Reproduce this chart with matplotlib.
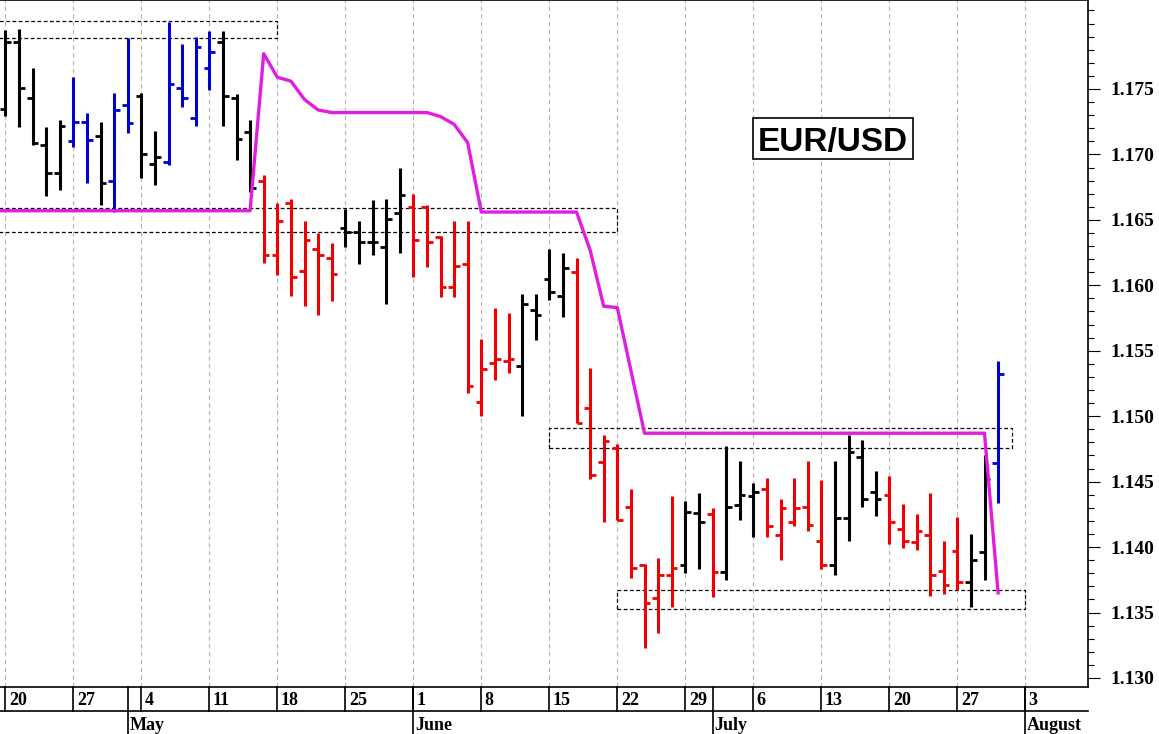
import numpy as np
import matplotlib.pyplot as plt
from matplotlib.patches import Rectangle
from matplotlib.ticker import FixedLocator, MultipleLocator, FormatStrFormatter
from matplotlib.transforms import offset_copy

# Daily EUR/USD bars, one per trading day starting Monday 20 April (index 0)
opens = [1.1735, 1.1786, 1.1743, 1.1707, 1.1686, 1.1710, 1.1725, 1.1714, 1.1680, 1.1738,
         1.1745, 1.1693, 1.1694, 1.1751, 1.1728, 1.1766, 1.1786, 1.1743, 1.1717, 1.1680,
         1.1623, 1.1663, 1.1611, 1.1628, 1.1621, 1.1644, 1.1641, 1.1633, 1.1629, 1.1655,
         1.1660, 1.1660, 1.1637, 1.1599, 1.1616, 1.1511, 1.1541, 1.1542, 1.1538, 1.1581,
         1.1605, 1.1592, 1.1610, 1.1506, 1.1465, 1.1476, 1.1431, 1.1386, 1.1361, 1.1379,
         1.1386, 1.1426, 1.1425, 1.1381, 1.1432, 1.1439, 1.1444, 1.1409, 1.1419, 1.1431,
         1.1405, 1.1386, 1.1422, 1.1469, 1.1442, 1.1440, 1.1414, 1.1404, 1.1409, 1.1382,
         1.1397, 1.1373, 1.1396, 1.1464]
highs = [1.1795, 1.1796, 1.1766, 1.1721, 1.1726, 1.1759, 1.1732, 1.1725, 1.1747, 1.1789,
         1.1747, 1.1718, 1.1801, 1.1784, 1.1790, 1.1794, 1.1794, 1.1746, 1.1726, 1.1684,
         1.1663, 1.1666, 1.1649, 1.1640, 1.1632, 1.1658, 1.1649, 1.1665, 1.1666, 1.1690,
         1.1670, 1.1661, 1.1638, 1.1649, 1.1649, 1.1559, 1.1583, 1.1579, 1.1593, 1.1593,
         1.1628, 1.1625, 1.1621, 1.1537, 1.1486, 1.1479, 1.1444, 1.1387, 1.1392, 1.1439,
         1.1435, 1.1441, 1.1430, 1.1477, 1.1466, 1.1449, 1.1453, 1.1437, 1.1453, 1.1466,
         1.1451, 1.1466, 1.1486, 1.1482, 1.1458, 1.1454, 1.1433, 1.1425, 1.1441, 1.1405,
         1.1423, 1.1410, 1.1470, 1.1542]
lows = [1.1729, 1.1721, 1.1707, 1.1668, 1.1673, 1.1706, 1.1678, 1.1661, 1.1656, 1.1716,
        1.1682, 1.1677, 1.1692, 1.1736, 1.1722, 1.1749, 1.1722, 1.1696, 1.1671, 1.1617,
        1.1608, 1.1592, 1.1584, 1.1577, 1.1588, 1.1629, 1.1616, 1.1623, 1.1586, 1.1625,
        1.1606, 1.1614, 1.1591, 1.1591, 1.1518, 1.1500, 1.1528, 1.1533, 1.1500, 1.1558,
        1.1589, 1.1576, 1.1495, 1.1452, 1.1419, 1.1421, 1.1376, 1.1323, 1.1334, 1.1354,
        1.1380, 1.1383, 1.1362, 1.1375, 1.1421, 1.1408, 1.1408, 1.1390, 1.1416, 1.1412,
        1.1383, 1.1379, 1.1405, 1.1431, 1.1424, 1.1402, 1.1399, 1.1398, 1.1363, 1.1364,
        1.1367, 1.1354, 1.1375, 1.1434]
closes = [1.1786, 1.1751, 1.1709, 1.1686, 1.1722, 1.1725, 1.1711, 1.1678, 1.1734, 1.1724,
          1.1700, 1.1698, 1.1754, 1.1743, 1.1782, 1.1778, 1.1745, 1.1712, 1.1674, 1.1623,
          1.1649, 1.1606, 1.1635, 1.1623, 1.1609, 1.1641, 1.1633, 1.1633, 1.1651, 1.1669,
          1.1635, 1.1633, 1.1599, 1.1615, 1.1523, 1.1536, 1.1544, 1.1544, 1.1586, 1.1577,
          1.1595, 1.1613, 1.1495, 1.1455, 1.1481, 1.1421, 1.1384, 1.1357, 1.1379, 1.1384,
          1.1427, 1.1419, 1.1381, 1.1431, 1.1440, 1.1442, 1.1416, 1.1430, 1.1430, 1.1417,
          1.1386, 1.1422, 1.1473, 1.1437, 1.1437, 1.1419, 1.1405, 1.1412, 1.1379, 1.1371,
          1.1373, 1.1390, 1.1452, 1.1532]

# Bar colour codes: k = neutral, b = up trend, r = down trend
bar_colors = (['k'] * 5 + ['b'] * 2 + ['k'] + ['b'] * 2 + ['k'] * 2 + ['b'] * 4
              + ['k'] * 3 + ['r'] * 6 + ['k'] * 5 + ['r'] * 8 + ['k'] * 4 + ['r'] * 8
              + ['k'] * 2 + ['r'] + ['k'] * 3 + ['r'] * 5 + ['k'] * 4 + ['r'] * 6
              + ['k'] * 2 + ['b'])

# Magenta stop line, starting one day before the first bar
stop_days = list(range(-1, 74))
stop_levels = ([1.1657] * 20 + [1.1777, 1.1759, 1.1756, 1.1742, 1.1734] + [1.1732] * 8
               + [1.1729, 1.1723, 1.1709] + [1.1656] * 8 + [1.1627, 1.1584, 1.1583, 1.1535]
               + [1.1487] * 26 + [1.1365])

# Dashed zones: (first day, last day, low, high)
zone_start = [-1, -1, 40, 45]
zone_end = [20, 45, 74, 75]
zone_low = [1.1789, 1.1641, 1.1476, 1.1353]
zone_high = [1.1802, 1.1659, 1.1491, 1.1367]

# Calendar labels
week_days = list(range(0, 76, 5))
week_labels = ['20', '27', '4', '11', '18', '25', '1', '8', '15', '22', '29',
               '6', '13', '20', '27', '3']
month_days = [9, 30, 52, 75]
month_labels = ['May', 'June', 'July', 'August']

price_ticks = [1.130, 1.135, 1.140, 1.145, 1.150, 1.155, 1.160, 1.165, 1.170, 1.175]

COLOR_MAP = {'k': '#000000', 'b': '#0000d0', 'r': '#f00000'}


def draw_bars(ax):
    """Draws the OHLC bars, the stop line and the dashed zones."""
    x = np.arange(len(closes))
    colors = [COLOR_MAP[c] for c in bar_colors]

    ax.vlines(x, lows, highs, colors=colors, lw=2.2, zorder=3)
    ax.hlines(opens, x - 0.42, x, colors=colors, lw=2.0, zorder=3)
    ax.hlines(closes, x, x + 0.42, colors=colors, lw=2.0, zorder=3)

    ax.plot(stop_days, stop_levels, color='#e01ee0', lw=2.4, zorder=4)

    for x0, x1, lo, hi in zip(zone_start, zone_end, zone_low, zone_high):
        ax.add_patch(Rectangle((x0, lo), x1 - x0, hi - lo, fill=False,
                               ec='black', lw=0.9, ls=(0, (3, 2)), zorder=2))


def draw_calendar(fig, ax):
    """Draws the week and month rows under the plot area."""
    trans = ax.get_xaxis_transform()
    row_y = -24 / 687
    bottom_y = -47 / 687

    ax.plot([0, 1], [row_y, row_y], transform=ax.transAxes, color='black',
            lw=1.2, clip_on=False)
    for d in week_days:
        ax.plot([d, d], [0, row_y], transform=trans, color='black', lw=1.2,
                clip_on=False)
    for d in month_days:
        ax.plot([d, d], [0, bottom_y], transform=trans, color='black', lw=1.2,
                clip_on=False)

    day_trans = offset_copy(trans, fig=fig, x=3.5, units='dots')
    for d, lab in zip(week_days, week_labels):
        ax.text(d, -18 / 687, lab, transform=day_trans, fontsize=13,
                fontweight='bold', ha='left', va='baseline')
    month_trans = offset_copy(trans, fig=fig, x=2, units='dots')
    for d, lab in zip(month_days, month_labels):
        ax.text(d, -43.5 / 687, lab, transform=month_trans, fontsize=13,
                fontweight='bold', ha='left', va='baseline')


def main():
    plt.rcParams['font.family'] = ['Liberation Serif', 'DejaVu Serif']

    fig = plt.figure(figsize=(11.59, 7.34), dpi=100)
    ax = fig.add_axes([0, 47 / 734, 1088 / 1159, 687 / 734])

    ax.set_xlim(-0.39, 79.61)
    ax.set_ylim(1.12931, 1.18180)

    # Weekly dashed grid
    for d in week_days:
        ax.axvline(d, color='#b4b4b4', lw=0.8, ls=(0, (4, 3)), zorder=1)

    draw_bars(ax)

    # Right-hand price axis
    ax.yaxis.tick_right()
    ax.yaxis.set_major_locator(FixedLocator(price_ticks))
    ax.yaxis.set_minor_locator(MultipleLocator(0.001))
    ax.yaxis.set_major_formatter(FormatStrFormatter('%.3f'))
    ax.tick_params(axis='y', which='major', direction='out', length=8.4,
                   width=0.8, pad=8, labelsize=14)
    ax.tick_params(axis='y', which='minor', direction='out', length=4.2,
                   width=0.8)
    for lbl in ax.get_yticklabels():
        lbl.set_fontweight('bold')
    ax.set_xticks([])

    ax.spines['left'].set_visible(False)
    for side in ['top', 'right', 'bottom']:
        ax.spines[side].set_linewidth(1.2)

    draw_calendar(fig, ax)

    # Instrument name in a box
    ax.add_patch(Rectangle((0.6924, 0.7681), 0.1470, 0.0597, transform=ax.transAxes,
                           fill=True, fc='white', ec='black', lw=1.2, zorder=5))
    ax.text(0.7659, 0.7977, 'EUR/USD', transform=ax.transAxes, fontsize=24,
            fontweight='bold', family=['Liberation Sans', 'DejaVu Sans'],
            ha='center', va='center_baseline', zorder=6)

    fig.savefig('out.png', dpi=100)


if __name__ == '__main__':
    main()
